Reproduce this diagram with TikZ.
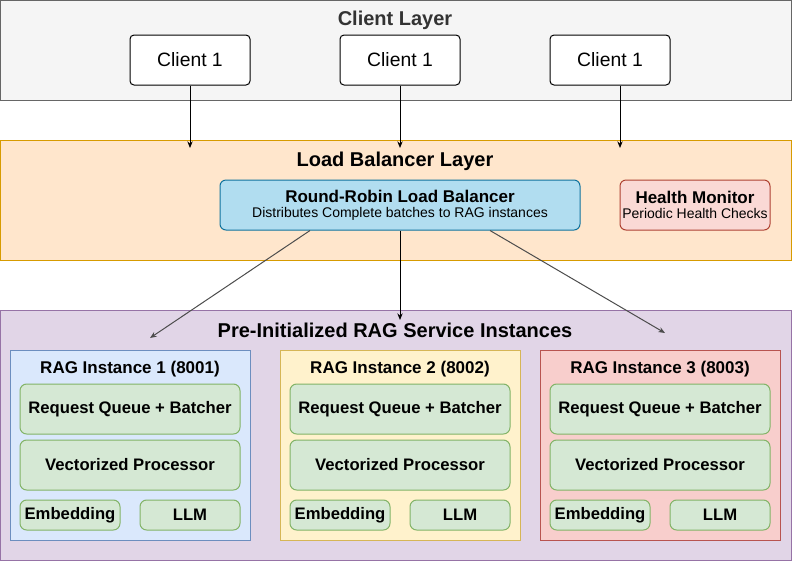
\documentclass[tikz,border=0pt]{standalone}
\usepackage{fontspec}
\setmainfont{Liberation Sans}
\usetikzlibrary{arrows.meta}

\definecolor{clientfill}{HTML}{F5F5F5}
\definecolor{clientdraw}{HTML}{666666}
\definecolor{lbfill}{HTML}{FFE6CC}
\definecolor{lbdraw}{HTML}{D79B00}
\definecolor{ragfill}{HTML}{E1D5E7}
\definecolor{ragdraw}{HTML}{9673A6}
\definecolor{rrfill}{HTML}{B1DDF0}
\definecolor{rrdraw}{HTML}{10739E}
\definecolor{hmfill}{HTML}{FAD9D5}
\definecolor{hmdraw}{HTML}{AE4132}
\definecolor{partfill}{HTML}{D5E8D4}
\definecolor{partdraw}{HTML}{82B366}
\definecolor{instfillA}{HTML}{DAE8FC}
\definecolor{instdrawA}{HTML}{6C8EBF}
\definecolor{instfillB}{HTML}{FFF2CC}
\definecolor{instdrawB}{HTML}{D6B656}
\definecolor{instfillC}{HTML}{F8CECC}
\definecolor{instdrawC}{HTML}{B85450}

\tikzset{
    layer/.style={draw, line width=0.75pt, inner sep=0pt, outer sep=0pt, minimum width=593.25pt},
    title/.style={font=\fontsize{15}{18}\selectfont\bfseries},
    client/.style={draw, fill=white, rounded corners=3pt, line width=0.75pt, minimum width=90pt, minimum height=37.5pt, font=\fontsize{14.5}{17}\selectfont},
    infobox/.style={draw, rounded corners=4.5pt, line width=0.75pt, minimum height=37.5pt, align=center, inner sep=0pt},
    instance/.style={draw, line width=0.75pt, minimum width=180pt, minimum height=142.5pt, inner sep=0pt},
    part/.style={draw=partdraw, fill=partfill, rounded corners=5pt, line width=0.75pt, minimum width=165pt, minimum height=37.5pt, inner sep=0pt, font=\fontsize{12.5}{15}\selectfont\bfseries},
    smallpart/.style={part, minimum width=75pt, minimum height=22.5pt},
    link/.style={-{Stealth[length=5pt, width=4pt]}, line width=0.75pt}
}

\begin{document}
\begin{tikzpicture}[x=0.75pt, y=-0.75pt]
    \useasboundingbox (0,0) rectangle (792,562);

    % Layers
    \node[layer, fill=clientfill, draw=clientdraw, minimum height=75pt] (ClientLayer) at (395.5,50) {};
    \node[layer, fill=lbfill, draw=lbdraw, minimum height=90pt] (LBLayer) at (395.5,200) {};
    \node[layer, fill=ragfill, draw=ragdraw, minimum height=187.5pt] (RAGLayer) at (395.5,435) {};

    \node[title, text=black!80] (ClientTitle) at (395,20) {Client Layer};
    \node[title] (LBTitle) at (395,161) {Load Balancer Layer};
    \node[title] (RAGTitle) at (395,330) {Pre-Initialized RAG Service Instances};

    % Clients
    \node[client] (ClientA) at (190,60) {Client 1};
    \node[client] (ClientB) at (400,60) {Client 1};
    \node[client] (ClientC) at (610,60) {Client 1};

    \coordinate (InA) at (190,148);
    \coordinate (InB) at (400,148);
    \coordinate (InC) at (620,148);

    \draw[link] (ClientA.south) -- (InA);
    \draw[link] (ClientB.south) -- (InB);
    \draw[link] (ClientC.south -| InC) -- (InC);

    % Load balancer and monitor
    \node[infobox, fill=rrfill, draw=rrdraw, minimum width=270pt] (Balancer) at (400,205)
        {{\fontsize{12.75}{15}\selectfont\bfseries Round-Robin Load Balancer}\\[-1pt]
         {\fontsize{10.5}{12}\selectfont Distributes Complete batches to RAG instances}};
    \node[infobox, fill=hmfill, draw=hmdraw, minimum width=112.5pt] (Monitor) at (695,205)
        {{\fontsize{12.75}{15}\selectfont\bfseries Health Monitor}\\[-1pt]
         {\fontsize{10.5}{12}\selectfont Periodic Health Checks}};

    % RAG instances
    \foreach \i/\cx/\fc/\dc in {1/130/instfillA/instdrawA, 2/400/instfillB/instdrawB, 3/660/instfillC/instdrawC} {
        \node[instance, fill=\fc, draw=\dc] (Inst\i) at (\cx,445) {};
        \node[font=\fontsize{12.75}{15}\selectfont\bfseries] (InstTitle\i) at (\cx,369) {RAG Instance \i\ (800\i)};
        \node[part] (Queue\i) at (\cx,409) {Request Queue + Batcher};
        \node[part] (Proc\i) at (\cx,465) {Vectorized Processor};
        \node[smallpart] (Embed\i) at (\cx-60,515) {Embedding};
        \node[smallpart] (LLM\i) at (\cx+60,515) {LLM};
    }

    \coordinate (OutA) at (150,338);
    \coordinate (OutB) at (400,320);
    \coordinate (OutC) at (665,333);

    \draw[link, black!70] (Balancer.south -| 310,0) -- (OutA);
    \draw[link] (Balancer.south) -- (OutB);
    \draw[link, black!70] (Balancer.south -| 490,0) -- (OutC);
\end{tikzpicture}
\end{document}
